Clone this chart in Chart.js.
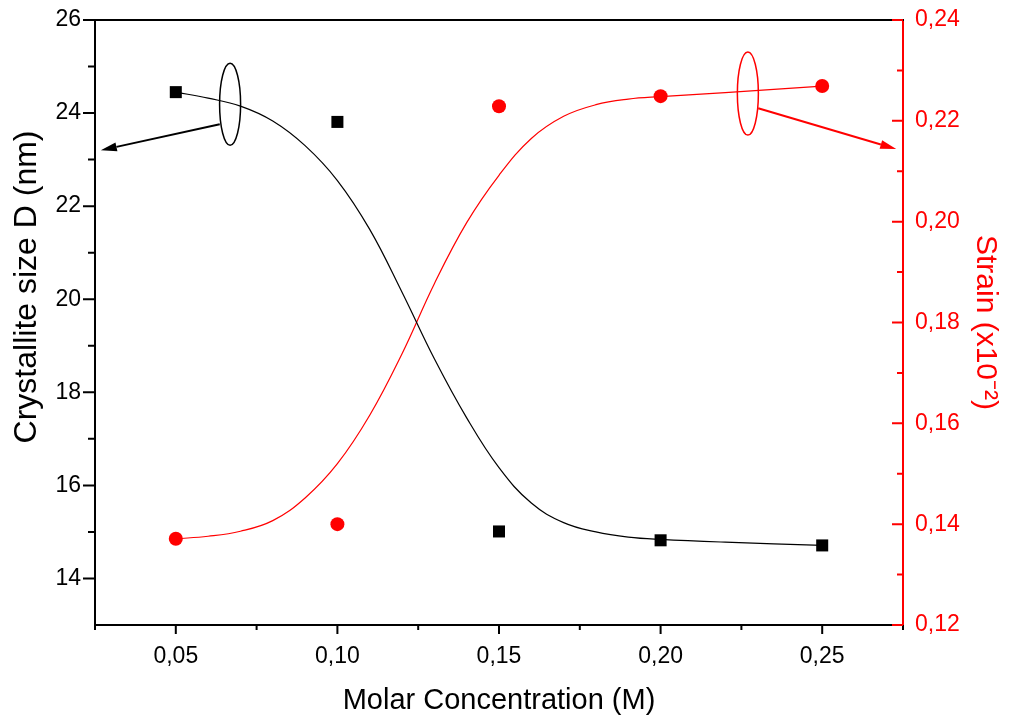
<!DOCTYPE html>
<html lang="en">
<head>
  <meta charset="UTF-8">
  <title>Crystallite size and strain vs molar concentration</title>
  <script src="https://cdn.jsdelivr.net/npm/chart.js"></script>
  <style>
    body {
      margin: 0;
      background: #ffffff;
    }
    canvas {
      display: block;
    }
  </style>
</head>
<body>

<canvas id="sizeStrainChart" width="1009" height="718"></canvas>

<script>
// measured points
const conc = [0.05, 0.10, 0.15, 0.20, 0.25];
const sizeD = [24.45, 23.81, 15.01, 14.82, 14.71];
const strain = [0.1371, 0.1400, 0.2229, 0.2249, 0.2269];

// fitted curves
const fitX = [0.05, 0.06, 0.07, 0.08, 0.09, 0.10, 0.11, 0.12, 0.13, 0.14, 0.15,
  0.16, 0.17, 0.18, 0.19, 0.20, 0.22, 0.25];
const sizeFit = [24.45, 24.32, 24.15, 23.83, 23.30, 22.55, 21.50, 20.15, 18.72, 17.45, 16.38,
  15.62, 15.20, 15.00, 14.89, 14.84, 14.78, 14.71];
const strainFit = [0.1371, 0.1376, 0.1386, 0.1407, 0.1452, 0.1520, 0.1616, 0.1738, 0.1877, 0.1998, 0.2092,
  0.2165, 0.2209, 0.2232, 0.2243, 0.2248, 0.2256, 0.2269];

// axis ticks
const xMajor = [0.05, 0.10, 0.15, 0.20, 0.25];
const xMinor = [0.025, 0.075, 0.125, 0.175, 0.225, 0.275];
const yMajor = [14, 16, 18, 20, 22, 24, 26];
const yMinor = [15, 17, 19, 21, 23, 25];
const y2Major = [0.12, 0.14, 0.16, 0.18, 0.20, 0.22, 0.24];
const y2Minor = [0.13, 0.15, 0.17, 0.19, 0.21, 0.23];

const FONT = "'Liberation Sans', Arial, sans-serif";
const RED = '#ff0000';

const toXY = (xs, ys) => xs.map((x, i) => ({ x: x, y: ys[i] }));
const comma = (v, d) => v.toFixed(d).replace('.', ',');

// ellipse + arrow markers telling which curve belongs to which axis
const axisMarks = [
  { axis: 'y', color: '#000000', cx: 0.0668, cy: 24.19, rx: 0.00325, ry: 0.88,
    from: [0.0636, 23.76], to: [0.0268, 23.20] },
  { axis: 'y2', color: RED, cx: 0.2270, cy: 0.2254, rx: 0.00325, ry: 0.00823,
    from: [0.2302, 0.2225], to: [0.2729, 0.2144] }
];

const decorPlugin = {
  id: 'decor',
  afterDraw(chart) {
    const ctx = chart.ctx;
    const a = chart.chartArea;
    const sx = chart.scales.x, sy = chart.scales.y, sy2 = chart.scales.y2;
    ctx.save();
    ctx.lineCap = 'butt';

    // top frame line
    ctx.strokeStyle = '#000';
    ctx.lineWidth = 2;
    ctx.beginPath();
    ctx.moveTo(a.left - 1, a.top);
    ctx.lineTo(a.right + 1, a.top);
    ctx.stroke();

    const tick = (color, pts) => {
      ctx.strokeStyle = color;
      ctx.lineWidth = 2;
      ctx.beginPath();
      pts.forEach(p => { ctx.moveTo(p[0], p[1]); ctx.lineTo(p[2], p[3]); });
      ctx.stroke();
    };
    // bottom ticks (outward)
    tick('#000', xMajor.map(v => { const p = sx.getPixelForValue(v); return [p, a.bottom, p, a.bottom + 9]; })
      .concat(xMinor.map(v => { const p = sx.getPixelForValue(v); return [p, a.bottom, p, a.bottom + 5]; })));
    // left ticks (outward)
    tick('#000', yMajor.map(v => { const p = sy.getPixelForValue(v); return [a.left, p, a.left - 12, p]; })
      .concat(yMinor.map(v => { const p = sy.getPixelForValue(v); return [a.left, p, a.left - 7, p]; })));
    // right ticks (inward)
    tick(RED, y2Major.map(v => { const p = sy2.getPixelForValue(v); return [a.right, p, a.right - 11, p]; })
      .concat(y2Minor.map(v => { const p = sy2.getPixelForValue(v); return [a.right, p, a.right - 6, p]; })));

    // ellipses and arrows
    axisMarks.forEach(m => {
      const ys = chart.scales[m.axis];
      const cx = sx.getPixelForValue(m.cx), cy = ys.getPixelForValue(m.cy);
      const rx = Math.abs(sx.getPixelForValue(m.cx + m.rx) - cx);
      const ry = Math.abs(ys.getPixelForValue(m.cy + m.ry) - cy);
      ctx.strokeStyle = m.color;
      ctx.fillStyle = m.color;
      ctx.lineWidth = 1.5;
      ctx.beginPath();
      ctx.ellipse(cx, cy, rx, ry, 0, 0, Math.PI * 2);
      ctx.stroke();

      const x1 = sx.getPixelForValue(m.from[0]), y1 = ys.getPixelForValue(m.from[1]);
      const x2 = sx.getPixelForValue(m.to[0]), y2 = ys.getPixelForValue(m.to[1]);
      const ang = Math.atan2(y2 - y1, x2 - x1);
      const hl = 16, hw = 4.5;
      const bx = x2 - hl * Math.cos(ang), by = y2 - hl * Math.sin(ang);
      ctx.lineWidth = 2;
      ctx.beginPath();
      ctx.moveTo(x1, y1);
      ctx.lineTo(bx, by);
      ctx.stroke();
      ctx.beginPath();
      ctx.moveTo(x2, y2);
      ctx.lineTo(bx + hw * Math.sin(ang), by - hw * Math.cos(ang));
      ctx.lineTo(bx - hw * Math.sin(ang), by + hw * Math.cos(ang));
      ctx.closePath();
      ctx.fill();
    });
    ctx.restore();
  }
};

const noVPad = s => { s.paddingTop = 0; s.paddingBottom = 0; };

const ctx = document.getElementById('sizeStrainChart').getContext('2d');
const chart = new Chart(ctx, {
  type: 'scatter',
  data: {
    datasets: [
      {
        label: 'Size fit',
        data: toXY(fitX, sizeFit),
        yAxisID: 'y',
        showLine: true,
        borderColor: '#000',
        borderWidth: 1.2,
        pointRadius: 0,
        tension: 0.4,
        order: 3
      },
      {
        label: 'Strain fit',
        data: toXY(fitX, strainFit),
        yAxisID: 'y2',
        showLine: true,
        borderColor: RED,
        borderWidth: 1.2,
        pointRadius: 0,
        tension: 0.4,
        order: 4
      },
      {
        label: 'Crystallite size D',
        data: toXY(conc, sizeD),
        yAxisID: 'y',
        pointStyle: 'rect',
        pointRadius: 8.5,
        backgroundColor: '#000',
        borderColor: '#000',
        borderWidth: 0,
        order: 1
      },
      {
        label: 'Strain',
        data: toXY(conc, strain),
        yAxisID: 'y2',
        pointStyle: 'circle',
        pointRadius: 7,
        backgroundColor: RED,
        borderColor: RED,
        borderWidth: 0,
        order: 2
      }
    ]
  },
  options: {
    responsive: false,
    animation: false,
    layout: { padding: { top: 20, left: 0, right: 0, bottom: 0 }, autoPadding: false },
    plugins: {
      legend: { display: false },
      tooltip: { enabled: false }
    },
    scales: {
      x: {
        type: 'linear',
        position: 'bottom',
        min: 0.025,
        max: 0.275,
        afterBuildTicks: s => { s.ticks = xMajor.map(v => ({ value: v })); },
        afterFit: s => { s.height = 93; s.paddingLeft = 0; s.paddingRight = 0; },
        grid: { display: true, drawOnChartArea: false, drawTicks: false },
        border: { color: '#000', width: 2 },
        ticks: {
          color: '#000',
          font: { family: FONT, size: 23 },
          padding: 18,
          maxRotation: 0,
          callback: v => comma(v, 2)
        },
        title: {
          display: true,
          text: 'Molar Concentration (M)',
          color: '#000',
          font: { family: FONT, size: 29 },
          padding: { top: 4, bottom: 0 }
        }
      },
      y: {
        type: 'linear',
        position: 'left',
        min: 13,
        max: 26,
        afterBuildTicks: s => { s.ticks = yMajor.map(v => ({ value: v })); },
        afterFit: s => { s.width = 95; noVPad(s); },
        grid: { display: true, drawOnChartArea: false, drawTicks: false },
        border: { color: '#000', width: 2 },
        ticks: {
          color: '#000',
          font: { family: FONT, size: 23 },
          padding: 14,
          callback: v => String(v)
        },
        title: {
          display: true,
          // leading spaces push the visible text up, as in the original
          text: '        Crystallite size D (nm)',
          color: '#000',
          font: { family: FONT, size: 32 },
          padding: { top: 8, bottom: 0 }
        }
      },
      y2: {
        type: 'linear',
        position: 'right',
        min: 0.12,
        max: 0.24,
        afterBuildTicks: s => { s.ticks = y2Major.map(v => ({ value: v })); },
        afterFit: s => { s.width = 106; noVPad(s); },
        grid: { display: true, drawOnChartArea: false, drawTicks: false },
        border: { color: RED, width: 2 },
        ticks: {
          color: RED,
          font: { family: FONT, size: 23 },
          padding: 12,
          callback: v => comma(v, 2)
        },
        title: {
          display: true,
          text: 'Strain (x10⁻²)',
          color: RED,
          font: { family: FONT, size: 30 },
          padding: { top: 6, bottom: 0 }
        }
      }
    }
  },
  plugins: [decorPlugin]
});
</script>
</body>
</html>
